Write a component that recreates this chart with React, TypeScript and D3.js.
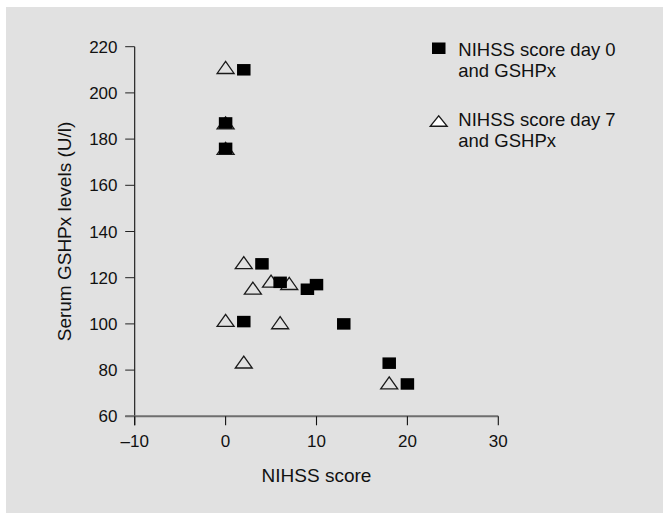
import * as d3 from 'd3';

// NIHSS score (x) and serum GSHPx (y)
const day0Scores = [2, 0, 0, 4, 6, 9, 10, 2, 13, 18, 20];
const day0Gshpx = [210, 187, 176, 126, 118, 115, 117, 101, 100, 83, 74];
const day7Scores = [0, 0, 0, 2, 3, 5, 7, 0, 6, 2, 18];
const day7Gshpx = [211, 187, 176, 126.5, 115.5, 118.5, 117.5, 101.5, 100.5, 83.5, 74.5];

const xTicks = [-10, 0, 10, 20, 30];
const yTicks = [60, 80, 100, 120, 140, 160, 180, 200, 220];
const legendLabels = [
  ['NIHSS score day 0', 'and GSHPx'],
  ['NIHSS score day 7', 'and GSHPx'],
];

const font = '"Liberation Sans", Arial, Helvetica, sans-serif';

export default function App() {
  const width = 663;
  const height = 515;
  const x = d3.scaleLinear().domain([-10, 30]).range([134.7, 498.3]);
  const y = d3.scaleLinear().domain([60, 220]).range([416.3, 46.7]);

  const day0 = day0Scores.map((s, i) => ({ x: s, y: day0Gshpx[i] }));
  const day7 = day7Scores.map((s, i) => ({ x: s, y: day7Gshpx[i] }));

  const sqW = 13.5;
  const sqH = 11.5;
  const triPath = (cx: number, cy: number, w = 17, h = 12) =>
    `M${cx - w / 2},${cy + h / 2}L${cx + w / 2},${cy + h / 2}L${cx},${cy - h / 2}Z`;

  const fmt = (t: number) => (t < 0 ? `\u2013${Math.abs(t)}` : `${t}`);

  return (
    <svg
      width={width}
      height={height}
      viewBox={`0 0 ${width} ${height}`}
      style={{ position: 'fixed', left: 0, top: 0, display: 'block' }}
      fontFamily={font}
    >
      <rect x={0} y={0} width={width} height={height} fill="#ffffff" />
      <rect x={6} y={7} width={width - 6} height={506} fill="#e1e1e1" />

      {/* y axis */}
      <line x1={x(-10)} x2={x(-10)} y1={y(220)} y2={y(60) + 9} stroke="#111" strokeWidth={1.1} />
      {yTicks.map((t) => (
        <g key={t}>
          <line x1={x(-10) - 9.5} x2={x(-10)} y1={y(t)} y2={y(t)} stroke="#222" strokeWidth={1} />
          <text x={117.5} y={y(t) + 6} textAnchor="end" fontSize={17} fill="#111">
            {t}
          </text>
        </g>
      ))}

      {/* x axis */}
      <line x1={x(-10) - 9.5} x2={x(30)} y1={y(60)} y2={y(60)} stroke="#6e6e6e" strokeWidth={2} />
      {xTicks.map((t) => (
        <g key={t}>
          <line x1={x(t)} x2={x(t)} y1={y(60)} y2={y(60) + 9} stroke="#111" strokeWidth={1.1} />
          <text x={x(t)} y={446.7} textAnchor="middle" fontSize={17} fill="#111">
            {fmt(t)}
          </text>
        </g>
      ))}

      <text x={(x(-10) + x(30)) / 2} y={482} textAnchor="middle" fontSize={19} fill="#111">
        NIHSS score
      </text>
      <text
        transform={`translate(70.5,${(y(60) + y(220)) / 2}) rotate(-90)`}
        textAnchor="middle"
        fontSize={19}
        fill="#111"
      >
        Serum GSHPx levels (U/l)
      </text>

      {/* day 7 triangles underneath */}
      {day7.map((d, i) => (
        <path key={`t${i}`} d={triPath(x(d.x), y(d.y))} fill="none" stroke="#1a1a1a" strokeWidth={1.3} />
      ))}
      {/* day 0 squares on top */}
      {day0.map((d, i) => (
        <rect
          key={`s${i}`}
          x={x(d.x) - sqW / 2}
          y={y(d.y) - sqH / 2}
          width={sqW}
          height={sqH}
          fill="#000"
        />
      ))}

      {/* legend */}
      <rect x={432} y={42.5} width={13.5} height={11.5} fill="#000" />
      <path d={triPath(438.7, 121, 17, 10.5)} fill="#ffffff" stroke="#1a1a1a" strokeWidth={1.3} />
      {legendLabels.map((lines, i) => (
        <text key={i} fontSize={18.5} fill="#111">
          {lines.map((l, j) => (
            <tspan key={j} x={458.3} y={56 + i * 70 + j * 21}>
              {l}
            </tspan>
          ))}
        </text>
      ))}
    </svg>
  );
}
